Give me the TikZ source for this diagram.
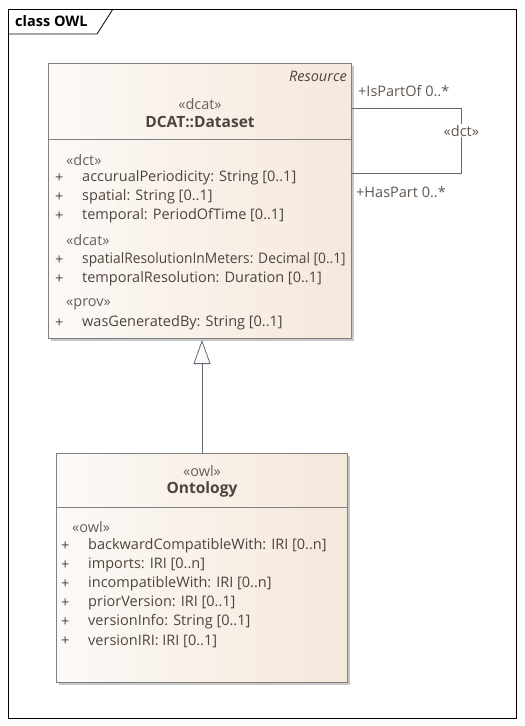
\documentclass[tikz,border=0pt]{standalone}
\usepackage{fontspec}
\setmainfont{Open Sans}
\usetikzlibrary{positioning,arrows.meta,shadows,calc}
\definecolor{umlfill}{RGB}{245,232,220}
\definecolor{umlline}{RGB}{128,128,128}
\definecolor{umltext}{RGB}{78,68,62}
\definecolor{linkline}{RGB}{100,105,120}
\begin{document}
\begin{tikzpicture}[x=1pt, y=-1pt,
  classbox/.style={draw=umlline, left color=umlfill!25, right color=umlfill,
    drop shadow={shadow xshift=3pt, shadow yshift=-3pt, fill=black!22, opacity=1}},
  attr/.style={anchor=west, inner sep=0pt, text=umltext, font=\fontsize{14.5}{16}\selectfont},
  stereo/.style={anchor=west, inner sep=0pt, text=umltext!85, font=\fontsize{14.5}{16}\selectfont},
  plus/.style={anchor=west, inner sep=0pt, text=umltext, font=\fontsize{14.5}{16}\selectfont},
  cname/.style={inner sep=0pt, text=umltext, font=\bfseries\fontsize{15.5}{17}\selectfont},
  rolelbl/.style={anchor=west, inner sep=0pt, text=umltext!90, font=\fontsize{14.5}{16}\selectfont},
  link/.style={draw=linkline, line width=0.8pt}]
\useasboundingbox (0,0) rectangle (525,726);
% Frame {{{
\draw[black, line width=0.8pt] (8,9) rectangle (516,718);
\draw[black, line width=0.8pt] (8,34) -- (97,34) -- (113,9);
\node[anchor=west, inner sep=0pt, font=\bfseries\fontsize{14.5}{16}\selectfont] (frametitle) at (15,21) {class OWL} ;
% }}}
% DCAT::Dataset {{{
\node[classbox, anchor=north west, minimum width=303pt, minimum height=275pt] (dataset) at (48,63) {} ;
\draw[umlline] (48,139) -- (351,139);
\node[anchor=east, inner sep=0pt, text=umltext, font=\itshape\fontsize{14.5}{16}\selectfont] (resource) at (347,76) {Resource} ;
\node[inner sep=0pt, text=umltext!85, font=\fontsize{14.5}{16}\selectfont] (dsstereo) at (200,104) {«dcat»} ;
\node[cname] (dsname) at (200,122) {DCAT::Dataset} ;
\node[stereo] (dsdct) at (66,160) {«dct»} ;
\node[plus] (p1) at (55,178) {+} ; \node[attr] (a1) at (82,178) {accurualPeriodicity: String [0..1]} ;
\node[plus] (p2) at (55,197) {+} ; \node[attr] (a2) at (82,197) {spatial: String [0..1]} ;
\node[plus] (p3) at (55,216) {+} ; \node[attr] (a3) at (82,216) {temporal: PeriodOfTime [0..1]} ;
\node[stereo] (dsdcat) at (66,240) {«dcat»} ;
\node[plus] (p4) at (55,260) {+} ; \node[attr] (a4) at (82,260) {\scalebox{0.95}[1]{spatialResolutionInMeters: Decimal [0..1]}} ;
\node[plus] (p5) at (55,279) {+} ; \node[attr] (a5) at (82,279) {temporalResolution: Duration [0..1]} ;
\node[stereo] (dsprov) at (66,304) {«prov»} ;
\node[plus] (p6) at (55,323) {+} ; \node[attr] (a6) at (82,323) {wasGeneratedBy: String [0..1]} ;
% }}}
% Ontology {{{
\node[classbox, anchor=north west, minimum width=291pt, minimum height=229pt] (ontology) at (56,453) {} ;
\draw[umlline] (56,507) -- (347,507);
\node[inner sep=0pt, text=umltext!85, font=\fontsize{14.5}{16}\selectfont] (onstereo) at (202,471) {«owl»} ;
\node[cname] (onname) at (202,489) {Ontology} ;
\node[stereo] (onowl) at (72,527) {«owl»} ;
\node[plus] (q1) at (61,546) {+} ; \node[attr] (b1) at (88,546) {backwardCompatibleWith: IRI [0..n]} ;
\node[plus] (q2) at (61,565) {+} ; \node[attr] (b2) at (88,565) {imports: IRI [0..n]} ;
\node[plus] (q3) at (61,584) {+} ; \node[attr] (b3) at (88,584) {incompatibleWith: IRI [0..n]} ;
\node[plus] (q4) at (61,603) {+} ; \node[attr] (b4) at (88,603) {priorVersion: IRI [0..1]} ;
\node[plus] (q5) at (61,622) {+} ; \node[attr] (b5) at (88,622) {versionInfo: String [0..1]} ;
\node[plus] (q6) at (61,641) {+} ; \node[attr] (b6) at (88,641) {versionIRI: IRI [0..1]} ;
% }}}
% Links {{{
\draw[link, -{Triangle[open, length=24pt, width=17pt, fill=umlfill!20]}] (ontology.north -| 202,0) -- (202,340);
\coordinate (loopa) at ([yshift=-45pt]dataset.north east);
\coordinate (loopb) at ([yshift=-110pt]dataset.north east);
\draw[link] (loopa) -- ++(110,0) coordinate (loopc) -- (loopc |- loopb) coordinate (loopd) -- (loopb);
\node[fill=white, inner sep=1pt, text=umltext!90, font=\fontsize{14.5}{16}\selectfont] (loopstereo) at ($(loopc)!0.35!(loopd)$) {«dct»} ;
\node[rolelbl] (ispartof) at (358,91) {+IsPartOf 0..*} ;
\node[rolelbl] (haspart) at (356,192) {+HasPart 0..*} ;
% }}}
\end{tikzpicture}
\end{document}
